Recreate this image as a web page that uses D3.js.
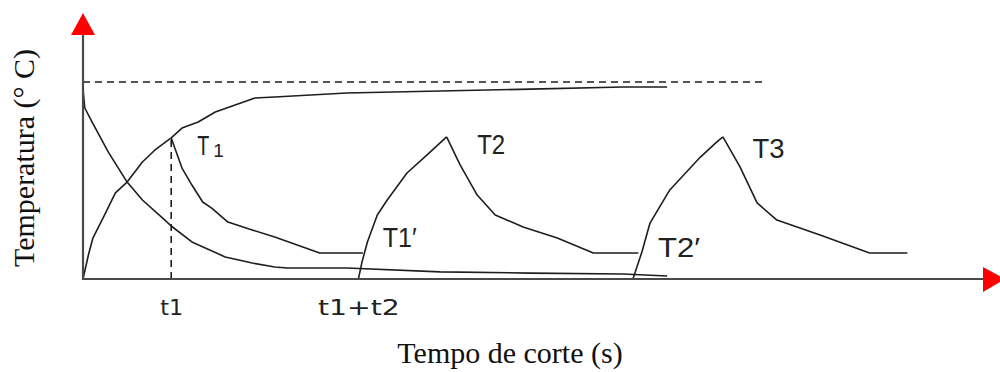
<!DOCTYPE html>
<html>
<head>
<meta charset="utf-8">
<script src="https://cdn.jsdelivr.net/npm/d3@7"></script>
<style>
  html, body { margin: 0; padding: 0; background: #fff; }
  svg { display: block; }
</style>
</head>
<body>
<svg id="chart" width="1000" height="372"></svg>
<script>
// Temperature curves over cutting time (arbitrary units: time 0-100, temperature 0-100)
const riseFirstX = [0, 0.6, 1.1, 2.4, 3.6, 4.9, 6.6, 8.0, 9.8, 11.0, 12.8, 14.7, 16.9, 19.1, 21.3, 29.3, 39.7, 49.7, 60.0, 64.9];
const riseFirstY = [0, 12.2, 20.8, 32.5, 43.7, 49.2, 59.4, 65.5, 71.6, 76.6, 79.7, 84.8, 88.3, 91.9, 92.4, 94.4, 95.4, 96.4, 97.5, 97.5];

const fallFirstX = [0, 0.2, 1.0, 2.8, 4.9, 6.6, 9.1, 9.8, 12.1, 15.8, 18.8, 21.3, 22.7, 29.3, 39.7, 49.7, 60.0, 64.9];
const fallFirstY = [96.4, 86.8, 79.7, 64.5, 49.2, 40.1, 29.9, 26.9, 18.8, 11.2, 8.1, 6.1, 5.6, 5.6, 3.6, 3.0, 2.5, 1.5];

const coolT1X = [9.8, 11.0, 12.1, 13.3, 14.3, 16.1, 18.8, 21.3, 26.3, 31.1];
const coolT1Y = [71.6, 56.3, 47.7, 39.1, 36.0, 28.9, 24.9, 21.3, 13.2, 13.2];

const riseT2X = [30.6, 31.0, 31.6, 32.7, 33.8, 36.0, 38.2, 40.4];
const riseT2Y = [0, 8.6, 18.8, 32.5, 40.1, 53.8, 62.9, 72.1];

const coolT2X = [40.4, 41.9, 43.8, 45.8, 48.9, 52.7, 56.7, 61.7];
const coolT2Y = [72.1, 57.9, 42.6, 32.5, 26.4, 20.8, 13.2, 13.2];

const riseT3X = [61.1, 62.1, 63.0, 65.2, 68.6, 70.4, 71.1];
const riseT3Y = [0, 13.7, 28.4, 45.2, 61.9, 69.5, 72.1];

const coolT3X = [71.1, 73.0, 74.9, 77.1, 81.9, 87.4, 91.6];
const coolT3Y = [72.1, 56.9, 38.6, 29.9, 22.3, 13.2, 13.2];

// Upper limit (dashed) and the t1 guide
const limitTemp = 100;
const limitEnd = 75.8;
const t1 = 9.8;
const t1Temp = 71.6;

// Tick positions on the time axis and their labels
const tickValues = [9.8, 30.6];
const tickLabels = ["t1", "t1+t2"];

// Point labels
const labelNames = ["T", "T2", "T1\u2032", "T3", "T2\u2032"];
const labelX = [12.7, 43.8, 33.3, 74.4, 63.9];
const labelY = [63.0, 63.5, 16.2, 61.4, 11.2];

const zip = (xs, ys) => xs.map((x, i) => [x, ys[i]]);

const svg = d3.select("#chart");
const x = d3.scaleLinear().domain([0, 100]).range([83, 983]);
const y = d3.scaleLinear().domain([0, 100]).range([279, 82]);

const ink = "#1e1e1e";
const line = d3.line().x(d => x(d[0])).y(d => y(d[1])).curve(d3.curveLinear);

// Dashed upper limit and t1 guide
svg.append("line")
  .attr("x1", x(0)).attr("x2", x(limitEnd))
  .attr("y1", y(limitTemp)).attr("y2", y(limitTemp))
  .attr("stroke", ink).attr("stroke-width", 1.6).attr("stroke-dasharray", "7,5");
svg.append("line")
  .attr("x1", x(t1)).attr("x2", x(t1))
  .attr("y1", y(0)).attr("y2", y(t1Temp))
  .attr("stroke", ink).attr("stroke-width", 1.6).attr("stroke-dasharray", "7,5");

// Curves
const curves = [
  zip(riseFirstX, riseFirstY),
  zip(fallFirstX, fallFirstY),
  zip(coolT1X, coolT1Y),
  zip(riseT2X, riseT2Y),
  zip(coolT2X, coolT2Y),
  zip(riseT3X, riseT3Y),
  zip(coolT3X, coolT3Y)
];
svg.append("g").selectAll("path").data(curves).join("path")
  .attr("d", line)
  .attr("fill", "none")
  .attr("stroke", ink)
  .attr("stroke-width", 1.6)
  .attr("stroke-linejoin", "round");

// Axes lines with red arrow heads
const axisColor = "#4a4a4a";
svg.append("line")
  .attr("x1", x(0)).attr("x2", x(0))
  .attr("y1", y(0) + 1).attr("y2", 34)
  .attr("stroke", axisColor).attr("stroke-width", 2.2);
svg.append("line")
  .attr("x1", x(0) - 1).attr("x2", 984)
  .attr("y1", y(0)).attr("y2", y(0))
  .attr("stroke", axisColor).attr("stroke-width", 2.2);
svg.append("path")
  .attr("d", d3.line()([[x(0) - 12, 35], [x(0), 13], [x(0) + 12, 35]]) + "Z")
  .attr("fill", "#ff0000");
svg.append("path")
  .attr("d", d3.line()([[983, y(0) - 12], [1005, y(0)], [983, y(0) + 13]]) + "Z")
  .attr("fill", "#ff0000");

// Time axis tick labels
const xAxis = d3.axisBottom(x)
  .tickValues(tickValues)
  .tickFormat((d, i) => tickLabels[i])
  .tickSize(0)
  .tickPadding(0);
const gx = svg.append("g").attr("transform", `translate(0,${y(0)})`).call(xAxis);
gx.select(".domain").remove();
gx.selectAll("text")
  .attr("dy", null)
  .attr("y", 36)
  .attr("font-family", "'DejaVu Sans', 'Liberation Sans', sans-serif")
  .attr("font-size", 22)
  .attr("fill", "#222")
  .attr("textLength", (d, i) => i === 0 ? 23 : 82)
  .attr("lengthAdjust", "spacingAndGlyphs");

// Point labels
const labelWidths = [12, 28, 34, 32, 42];
const lbl = svg.append("g")
  .attr("font-family", "'Liberation Sans', Arial, sans-serif")
  .attr("font-size", 27)
  .attr("fill", "#222");
labelNames.forEach((name, i) => {
  const t = lbl.append("text")
    .attr("x", x(labelX[i]))
    .attr("y", y(labelY[i]));
  if (i === 0) {
    t.append("tspan").text(name)
      .attr("textLength", labelWidths[i]).attr("lengthAdjust", "spacingAndGlyphs");
    t.append("tspan").text("1")
      .attr("font-size", 19).attr("dx", 4).attr("dy", 2);
  } else {
    t.text(name)
      .attr("textLength", labelWidths[i]).attr("lengthAdjust", "spacingAndGlyphs");
  }
});

// Axis titles
svg.append("text")
  .attr("x", 510).attr("y", 363)
  .attr("text-anchor", "middle")
  .attr("font-family", "'Liberation Serif', 'Times New Roman', serif")
  .attr("font-size", 30)
  .attr("fill", "#111")
  .text("Tempo de corte (s)");
svg.append("text")
  .attr("transform", "translate(34,158) rotate(-90)")
  .attr("text-anchor", "middle")
  .attr("font-family", "'Liberation Serif', 'Times New Roman', serif")
  .attr("font-size", 30)
  .attr("fill", "#111")
  .text("Temperatura (\u00B0 C)");
</script>
</body>
</html>
